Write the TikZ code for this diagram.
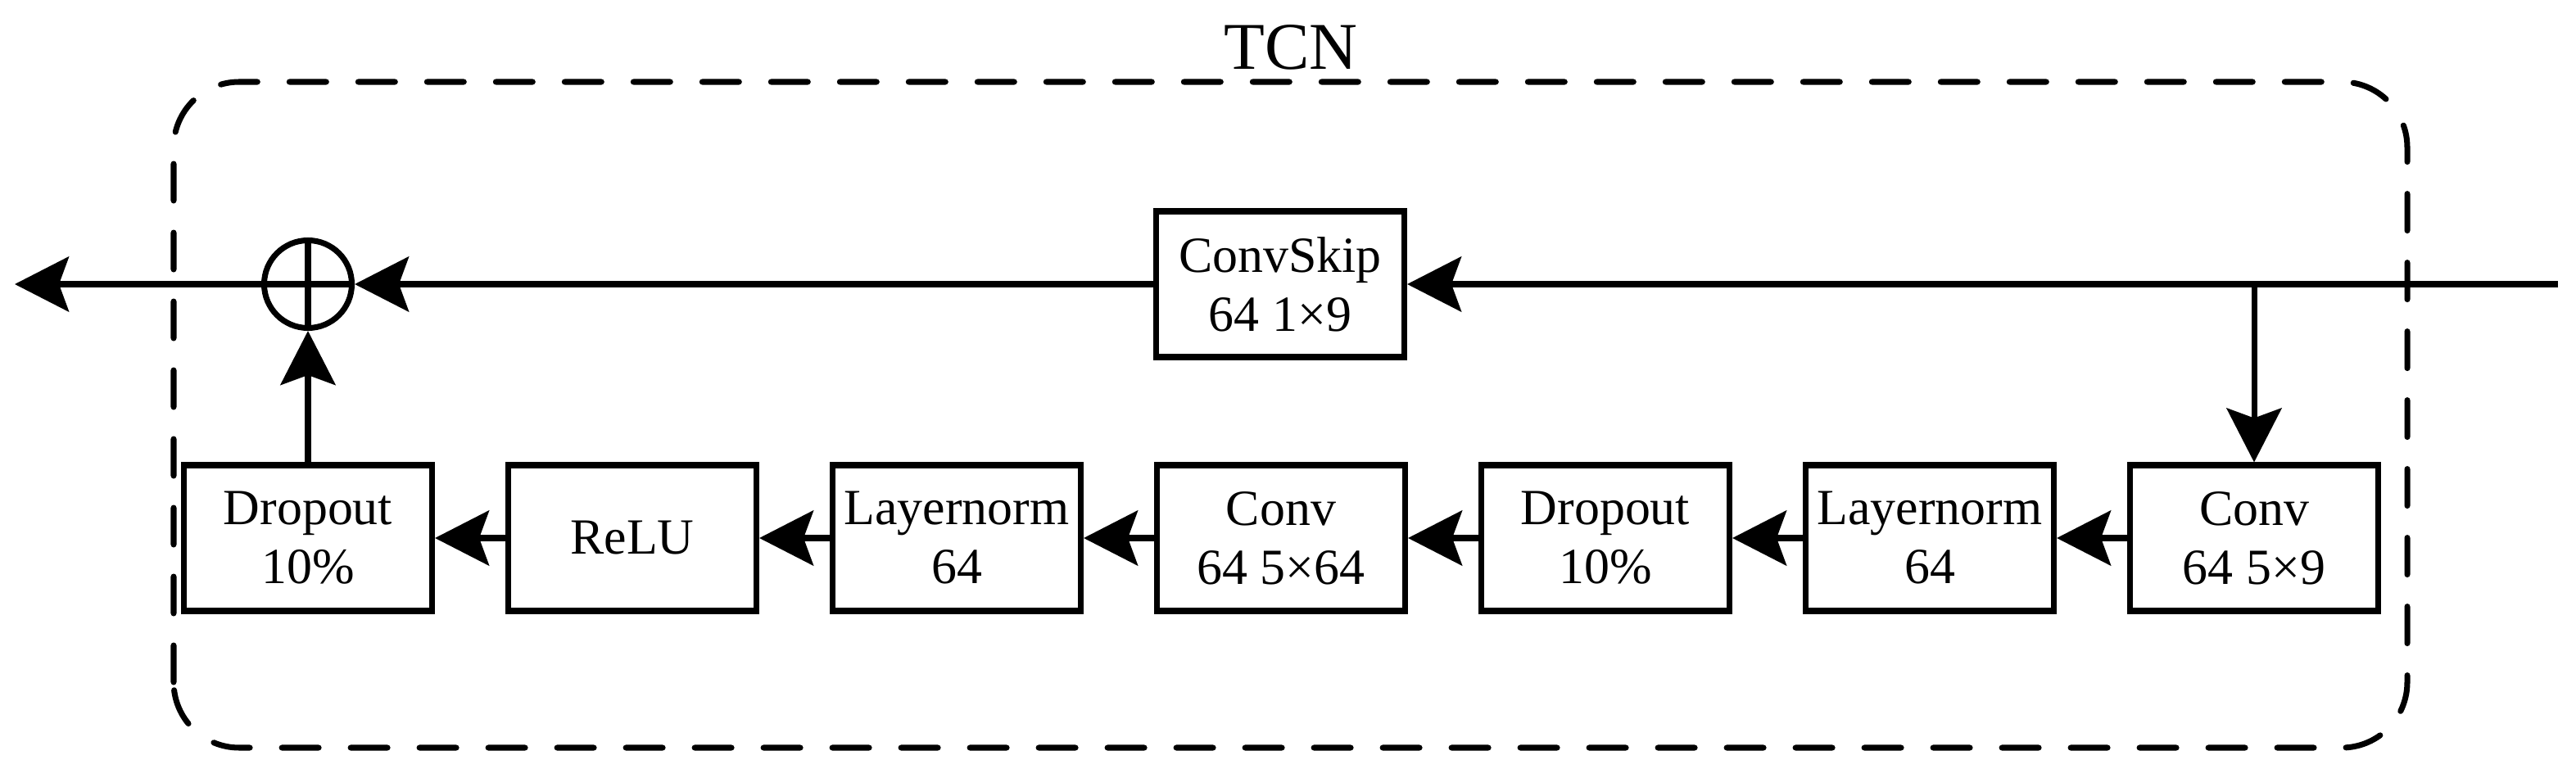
\documentclass[tikz,border=0pt]{standalone}
\usepackage{fontspec}
\setmainfont{Liberation Serif}
\usepackage{tikz}
\usetikzlibrary{arrows.meta}

\begin{document}
\begin{tikzpicture}[line width=2pt, >={Stealth[length=6.6mm, width=6.7mm, inset=1.2mm]},
  block/.style={rectangle, draw, line width=2pt, minimum width=3.03cm, minimum height=1.78cm, inner sep=1pt, align=center, font=\fontsize{17.6}{20.5}\selectfont}]
\useasboundingbox (0,0) rectangle (31.45,9.49);
\draw [dash pattern=on 12.8pt off 11.1pt, line cap=round, rounded corners=0.8cm] (2.12,0.36) rectangle (29.39,8.49);
\node (tcn) at (15.76,8.64) [anchor=base, font=\fontsize{23.2}{24}\selectfont] {TCN};

\coordinate (in) at (31.23,6.02);
\coordinate (out) at (0.18,6.02);
\coordinate (split) at (27.52,6.02);
\node (sum) at (3.76,6.02) [circle, draw, minimum size=1.07cm, inner sep=0pt] {};
\node (skip) at (15.63,6.02) [block] {ConvSkip\\64 1×9};

\node (drop1) at (3.76,2.92) [block] {Dropout\\10\%};
\node (relu) at (7.72,2.92) [block] {ReLU};
\node (norm1) at (11.68,2.92) [block] {Layernorm\\64};
\node (conv1) at (15.64,2.92) [block] {Conv\\64 5×64};
\node (drop2) at (19.60,2.92) [block] {Dropout\\10\%};
\node (norm2) at (23.56,2.92) [block] {Layernorm\\64};
\node (conv2) at (27.52,2.92) [block] {Conv\\64 5×9};

\draw (sum.north) -- (sum.south);
\draw (sum.west) -- (sum.east);
\draw [->] (in) -- (skip);
\draw [->] (split) -- (conv2);
\draw [->] (skip) -- (sum);
\draw [->] (sum) -- (out);
\draw [->] (conv2) -- (norm2);
\draw [->] (norm2) -- (drop2);
\draw [->] (drop2) -- (conv1);
\draw [->] (conv1) -- (norm1);
\draw [->] (norm1) -- (relu);
\draw [->] (relu) -- (drop1);
\draw [->] (drop1) -- (sum);
\end{tikzpicture}
\end{document}
